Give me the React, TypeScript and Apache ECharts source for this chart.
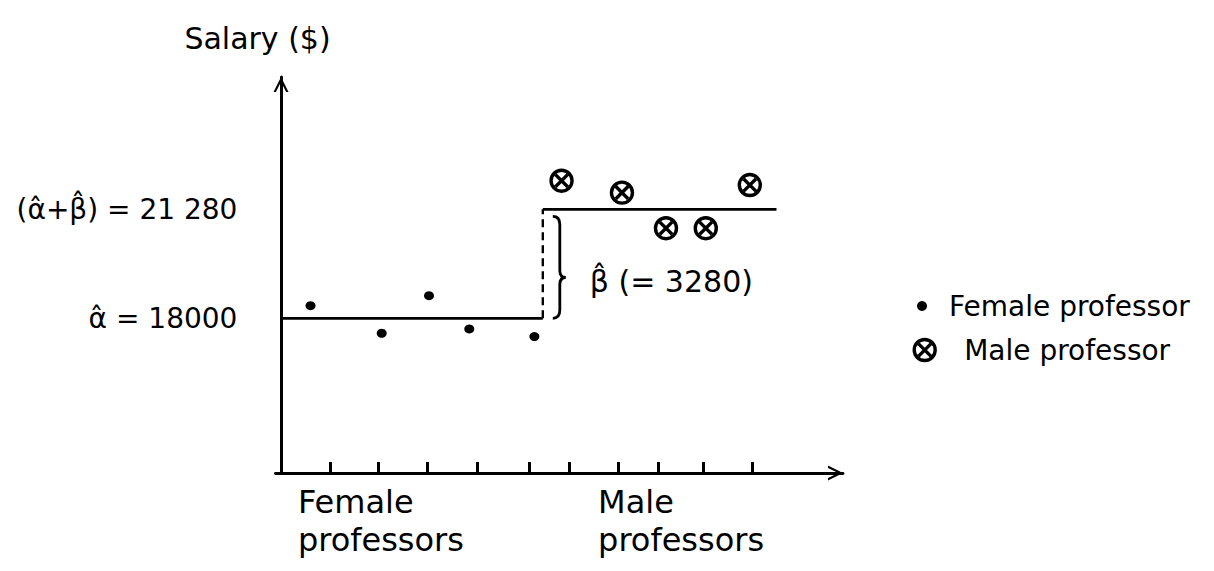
import { useEffect, useRef } from "react";
import * as echarts from "echarts";

const FONT = '"DejaVu Sans", "Noto Sans", sans-serif';
const INK = "#000";

// Estimated regression coefficients (salary in $)
const alphaHat = 18000;
const betaHat = 3280;

// Individual professors: position along the x axis and salary
const femaleX = [0.63, 2.15, 3.16, 4.02, 5.41];
const femaleSalary = [18380, 17550, 18680, 17680, 17450];
const maleX = [5.99, 7.28, 8.22, 9.07, 10.01];
const maleSalary = [22140, 21780, 20710, 20710, 22010];

// Extent of the fitted group means along x
const lineStartX = 0;
const stepX = 5.59;
const lineEndX = 10.58;

// Tick marks and group labels on the x axis
const xTickValues = [1.06, 2.07, 3.12, 4.19, 5.3, 6.15, 7.2, 8.05, 9.01, 10.06];
const xLabelValues = [0.36, 6.77];
const xLabelTexts = ["Female\nprofessors", "Male\nprofessors"];

// Labels on the salary axis
const yLabelValues = [alphaHat, alphaHat + betaHat];
const yLabelTexts = ["\u03b1\u0302 = 18000", "(\u03b1\u0302+\u03b2\u0302) = 21 280"];

const xRange = [-0.12, 12];
const yRange = [13345, 25260];

// Open chevron used as the arrow head of both axes
const ARROW = "path://M0,10 L5,0 L10,10 L8.4,10 L5,3.2 L1.6,10 Z";
// Circle with a cross, used for male professors
const CIRCLED_X =
  "path://M10,0 A10,10 0 1 1 10,20 A10,10 0 1 1 10,0 Z M4.2,4.2 L15.8,15.8 M15.8,4.2 L4.2,15.8";

const labelFor = (values: number[], texts: string[]) => (v: number) => {
  const i = values.findIndex((u) => Math.abs(u - v) < 1e-6);
  return i >= 0 ? texts[i] : "";
};

const option: any = {
  animation: false,
  backgroundColor: "#fff",
  textStyle: { fontFamily: FONT, color: INK },
  grid: { left: 275.4, right: 371, top: 77, bottom: 98, outerBoundsMode: "none" },
  xAxis: {
    type: "value",
    min: xRange[0],
    max: xRange[1],
    axisLine: {
      show: true,
      onZero: false,
      lineStyle: { color: INK, width: 2.8 },
      symbol: ["none", ARROW],
      symbolSize: [15, 15],
      symbolOffset: [0, -7.5],
    },
    axisTick: {
      show: true,
      inside: true,
      length: 11,
      customValues: xTickValues,
      lineStyle: { color: INK, width: 3 },
    },
    axisLabel: {
      customValues: xLabelValues,
      formatter: labelFor(xLabelValues, xLabelTexts),
      align: "left",
      fontSize: 32,
      lineHeight: 38,
      margin: 10,
      color: INK,
      fontFamily: FONT,
    },
    splitLine: { show: false },
  },
  yAxis: {
    type: "value",
    min: yRange[0],
    max: yRange[1],
    name: "Salary ($)",
    nameLocation: "end",
    nameGap: 24,
    nameTextStyle: { fontSize: 30, color: INK, fontFamily: FONT, padding: [0, 47, 0, 0] },
    axisLine: {
      show: true,
      onZero: true,
      lineStyle: { color: INK, width: 3 },
      symbol: ["none", ARROW],
      symbolSize: [15, 15],
      symbolOffset: [0, -7.5],
    },
    axisTick: { show: false },
    axisLabel: {
      customValues: yLabelValues,
      formatter: labelFor(yLabelValues, yLabelTexts),
      fontSize: 28,
      margin: 38,
      color: INK,
      fontFamily: FONT,
      padding: [0, 0, 12, 0],
    },
    splitLine: { show: false },
  },
  legend: [
    {
      data: [{ name: "Female professor", icon: "circle" }],
      left: 917,
      top: 292,
      padding: 0,
      itemWidth: 10,
      itemHeight: 10,
      selectedMode: false,
      itemStyle: { color: INK, borderWidth: 0, opacity: 1 },
      textStyle: { fontSize: 28, color: INK, fontFamily: FONT, padding: [0, 0, 12, 17] },
    },
    {
      data: [{ name: "Male professor", icon: CIRCLED_X }],
      left: 912.5,
      top: 336,
      padding: 0,
      itemWidth: 21,
      itemHeight: 21,
      selectedMode: false,
      itemStyle: { color: "transparent", borderColor: INK, borderWidth: 3.4, opacity: 1 },
      textStyle: { fontSize: 28, color: INK, fontFamily: FONT, padding: [0, 0, 0, 24] },
    },
  ],
  series: [
    {
      name: "Female fit",
      type: "line",
      data: [
        [lineStartX, alphaHat],
        [stepX, alphaHat],
      ],
      symbol: "none",
      lineStyle: { color: INK, width: 2.8 },
      z: 2,
    },
    {
      name: "Male fit",
      type: "line",
      data: [
        [stepX, alphaHat + betaHat],
        [lineEndX, alphaHat + betaHat],
      ],
      symbol: "none",
      lineStyle: { color: INK, width: 2.8 },
      z: 2,
    },
    {
      name: "Step",
      type: "line",
      data: [
        [stepX, alphaHat],
        [stepX, alphaHat + betaHat],
      ],
      symbol: "none",
      lineStyle: { color: INK, width: 2.4, type: [8, 5] },
      z: 2,
    },
    {
      name: "Beta brace",
      type: "custom",
      data: [[stepX, alphaHat, alphaHat + betaHat]],
      encode: { x: 0, y: [1, 2] },
      renderItem: (_params: any, api: any) => {
        const x = api.value(0);
        const lo = api.value(1);
        const hi = api.value(2);
        const top = api.coord([x, hi]);
        const bot = api.coord([x, lo]);
        const a = top[0] + 10;
        const b = top[0] + 17;
        const c = top[0] + 23;
        const y0 = top[1] + 7;
        const y1 = bot[1];
        const ym = y0 + (y1 - y0) * 0.6;
        const d =
          `M${a},${y0} Q${b},${y0} ${b},${y0 + 8} L${b},${ym - 7} ` +
          `Q${b},${ym} ${c},${ym} Q${b},${ym} ${b},${ym + 7} ` +
          `L${b},${y1 - 8} Q${b},${y1} ${a},${y1}`;
        return {
          type: "group",
          children: [
            {
              type: "path",
              shape: { pathData: d },
              style: { fill: "none", stroke: INK, lineWidth: 2.8 },
            },
            {
              type: "text",
              x: c + 24,
              y: ym + 4,
              style: {
                text: `\u03b2\u0302 (= ${hi - lo})`,
                fontSize: 30,
                fontFamily: FONT,
                fill: INK,
                align: "left",
                verticalAlign: "middle",
              },
            },
          ],
        };
      },
      z: 2,
    },
    {
      name: "Female professor",
      type: "scatter",
      data: femaleX.map((x, i) => [x, femaleSalary[i]]),
      symbol: "circle",
      symbolSize: [10, 9],
      itemStyle: { color: INK, opacity: 1 },
      z: 3,
    },
    {
      name: "Male professor",
      type: "scatter",
      data: maleX.map((x, i) => [x, maleSalary[i]]),
      symbol: CIRCLED_X,
      symbolSize: 21,
      itemStyle: { color: "transparent", borderColor: INK, borderWidth: 3.4, opacity: 1 },
      z: 3,
    },
  ],
};

export default function App() {
  const ref = useRef<HTMLDivElement>(null);
  useEffect(() => {
    const chart = echarts.init(ref.current!, null, { renderer: "svg" });
    chart.setOption(option);
    return () => chart.dispose();
  }, []);
  return (
    <div
      ref={ref}
      style={{ position: "absolute", left: 0, top: 0, width: 1214, height: 571, background: "#fff" }}
    />
  );
}
